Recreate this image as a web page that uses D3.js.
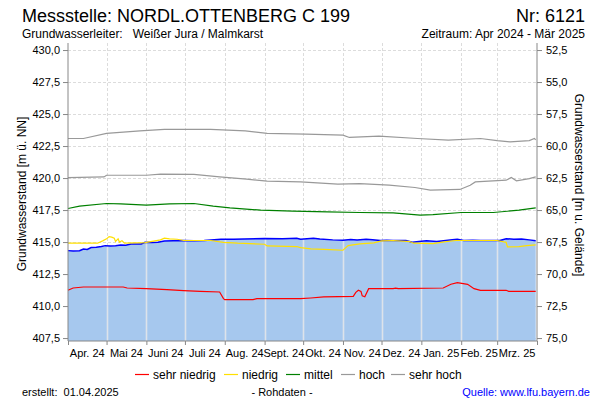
<!DOCTYPE html>
<html><head><meta charset="utf-8">
<script src="https://cdn.jsdelivr.net/npm/d3@7/dist/d3.min.js"></script>
<style>
body{margin:0;background:#fff;}
svg{display:block;font-family:"Liberation Sans",Arial,sans-serif;}
</style></head><body>
<svg id="c" width="600" height="400"></svg>
<script>
// ---- data ----
const monthLabels = ["Apr. 24","Mai 24","Juni 24","Juli 24","Aug. 24","Sept. 24","Okt. 24","Nov. 24","Dez. 24","Jan. 25","Feb. 25","Mrz. 25"];
const leftTicks = [407.5,410,412.5,415,417.5,420,422.5,425,427.5,430];
const rightTicks = [52.5,55,57.5,60,62.5,65,67.5,70,72.5,75];
const groundLevel = 482.5;

const messwert = [
["2024-04-01",414.33],["2024-04-05",414.30],["2024-04-10",414.32],["2024-04-13",414.46],["2024-04-16",414.42],["2024-04-19",414.57],
["2024-04-23",414.60],["2024-04-27",414.65],["2024-04-30",414.72],["2024-05-04",414.70],["2024-05-08",414.72],["2024-05-12",414.77],
["2024-05-16",414.75],["2024-05-20",414.85],["2024-05-28",414.85],["2024-05-31",414.98],["2024-06-05",414.96],["2024-06-10",414.98],
["2024-06-15",415.09],["2024-06-22",415.10],["2024-06-30",415.12],["2024-07-08",415.10],["2024-07-16",415.12],["2024-07-29",415.22],
["2024-08-08",415.22],["2024-08-16",415.24],["2024-09-01",415.27],["2024-09-15",415.26],["2024-09-26",415.30],["2024-09-29",415.22],
["2024-10-04",415.26],["2024-10-09",415.30],["2024-10-14",415.24],["2024-10-24",415.17],["2024-11-01",415.15],["2024-11-07",415.20],
["2024-11-12",415.16],["2024-11-19",415.22],["2024-11-24",415.18],["2024-11-30",415.12],["2024-12-05",415.14],["2024-12-10",415.12],
["2024-12-20",415.12],["2024-12-25",414.98],["2024-12-30",415.04],["2025-01-05",415.10],["2025-01-13",415.04],["2025-01-20",415.12],
["2025-01-25",415.18],["2025-01-29",415.22],["2025-02-03",415.12],["2025-02-10",415.14],["2025-02-16",415.12],["2025-03-03",415.12],
["2025-03-08",415.26],["2025-03-14",415.22],["2025-03-20",415.24],["2025-03-26",415.17],["2025-03-31",415.10]
];
const sehrNiedrig = [
["2024-04-01",411.23],["2024-04-05",411.41],["2024-04-13",411.49],["2024-05-14",411.49],["2024-05-17",411.41],["2024-06-01",411.36],
["2024-06-17",411.29],["2024-06-30",411.21],["2024-07-13",411.15],["2024-07-28",411.10],["2024-07-31",410.58],["2024-08-01",410.50],
["2024-08-23",410.50],["2024-08-26",410.58],["2024-09-29",410.58],["2024-10-07",410.63],["2024-10-17",410.71],["2024-11-09",410.76],
["2024-11-11",411.07],["2024-11-13",411.23],["2024-11-15",411.15],["2024-11-16",410.80],["2024-11-18",410.72],["2024-11-21",411.36],
["2024-12-10",411.36],["2024-12-12",411.40],["2024-12-14",411.36],["2025-01-18",411.41],["2025-01-24",411.70],["2025-01-29",411.83],
["2025-02-06",411.70],["2025-02-11",411.36],["2025-02-16",411.23],["2025-03-08",411.23],["2025-03-10",411.15],["2025-03-31",411.15]
];
const niedrig = [
["2024-04-01",414.91],["2024-04-24",414.91],["2024-04-28",415.09],["2024-05-01",415.25],["2024-05-03",415.43],["2024-05-05",415.38],
["2024-05-07",415.30],["2024-05-08",415.05],["2024-05-10",415.25],["2024-05-11",415.00],["2024-05-13",415.10],["2024-05-15",414.91],
["2024-05-31",414.96],["2024-06-12",415.17],["2024-06-15",415.30],["2024-06-19",415.25],["2024-06-25",415.22],["2024-06-30",415.12],
["2024-07-21",415.12],["2024-07-31",414.98],["2024-08-11",414.91],["2024-09-01",414.83],["2024-09-03",414.70],["2024-09-26",414.65],
["2024-09-29",414.57],["2024-10-07",414.46],["2024-10-22",414.41],["2024-11-01",414.36],["2024-11-05",414.72],["2024-11-14",414.85],
["2024-11-25",414.93],["2024-12-01",415.09],["2024-12-10",415.12],["2024-12-23",415.04],["2024-12-26",414.91],["2025-01-10",414.88],
["2025-01-20",415.04],["2025-01-28",415.12],["2025-03-01",415.12],["2025-03-08",414.98],["2025-03-09",414.62],["2025-03-18",414.64],
["2025-03-24",414.72],["2025-03-31",414.78]
];
const mittel = [
["2024-04-01",417.62],["2024-04-10",417.80],["2024-05-01",418.01],["2024-05-12",417.98],["2024-06-01",417.88],["2024-06-19",417.98],
["2024-07-08",418.01],["2024-07-23",417.80],["2024-08-05",417.67],["2024-08-29",417.49],["2024-09-23",417.41],["2024-10-20",417.36],
["2024-11-14",417.31],["2024-12-10",417.28],["2024-12-31",417.10],["2025-01-10",417.15],["2025-02-01",417.31],["2025-02-26",417.31],
["2025-03-18",417.49],["2025-03-31",417.67]
];
const hoch = [
["2024-04-01",420.04],["2024-04-29",420.09],["2024-05-01",420.22],["2024-06-01",420.22],["2024-06-12",420.30],["2024-07-08",420.28],
["2024-07-28",420.09],["2024-08-18",419.91],["2024-09-03",419.76],["2024-09-29",419.70],["2024-10-28",419.52],["2024-11-14",419.57],
["2024-12-07",419.44],["2024-12-27",419.26],["2025-01-08",419.05],["2025-01-31",419.11],["2025-02-08",419.44],["2025-02-12",419.70],
["2025-03-08",419.83],["2025-03-12",420.04],["2025-03-16",419.78],["2025-03-26",419.96],["2025-03-31",420.09]
];
const sehrHoch = [
["2024-04-01",423.09],["2024-04-13",423.09],["2024-05-01",423.49],["2024-05-27",423.69],["2024-06-15",423.80],["2024-07-21",423.80],
["2024-08-17",423.69],["2024-09-03",423.49],["2024-10-03",423.43],["2024-11-01",423.35],["2024-11-06",423.17],["2024-11-29",423.27],
["2024-12-29",423.09],["2025-01-22",422.96],["2025-02-16",423.09],["2025-03-01",422.93],["2025-03-11",422.83],["2025-03-26",422.93],
["2025-03-30",423.09],["2025-03-31",422.98]
];

// ---- chart ----
const svg = d3.select("#c");
const L = 68, R = 537, T = 43, B = 341;
const parse = d3.utcParse("%Y-%m-%d");
const x = d3.scaleUtc().domain([parse("2024-04-01"), parse("2025-04-01")]).range([L, R]);
const y = d3.scaleLinear().domain([407.27, 430.55]).range([B, T]);
const y2 = d3.scaleLinear().domain([groundLevel - 407.27, groundLevel - 430.55]).range([B, T]);
const fmt = v => d3.format(".1f")(v).replace(".", ",");
const months = d3.utcMonths(parse("2024-04-01"), parse("2025-04-02"));
const prep = arr => arr.map(d => [parse(d[0]), d[1]]);

// dashed grid
const grid = svg.append("g");
grid.selectAll("line.h").data(leftTicks).join("line")
  .attr("x1", L).attr("x2", R).attr("y1", d => Math.round(y(d)) + 0.5).attr("y2", d => Math.round(y(d)) + 0.5)
  .attr("stroke", "#dcdcdc").attr("stroke-dasharray", "3,2");
grid.selectAll("line.v").data(months.slice(1, -1)).join("line")
  .attr("x1", d => Math.round(x(d)) + 0.5).attr("x2", d => Math.round(x(d)) + 0.5).attr("y1", T).attr("y2", B)
  .attr("stroke", "#dcdcdc").attr("stroke-dasharray", "3,2");

// fill
const mw = prep(messwert);
const area = d3.area().x(d => x(d[0])).y0(B).y1(d => y(d[1]));
svg.append("clipPath").attr("id", "ac").append("path").attr("d", area(mw));
svg.append("path").attr("d", area(mw)).attr("fill", "#a6c8ee");
svg.append("g").attr("clip-path", "url(#ac)").selectAll("line").data(months.slice(1, -1)).join("line")
  .attr("x1", d => Math.round(x(d)) + 0.5).attr("x2", d => Math.round(x(d)) + 0.5).attr("y1", T).attr("y2", B)
  .attr("stroke", "#dde3ea").attr("stroke-width", 1.6);

// lines
const line = d3.line().x(d => x(d[0])).y(d => y(d[1]));
const series = [
  {name: "sehr niedrig", data: sehrNiedrig, color: "#ff0000"},
  {name: "niedrig", data: niedrig, color: "#ffe000"},
  {name: "mittel", data: mittel, color: "#008000"},
  {name: "hoch", data: hoch, color: "#999999"},
  {name: "sehr hoch", data: sehrHoch, color: "#999999"}
];
svg.append("path").attr("d", line(mw)).attr("fill", "none").attr("stroke", "#0000ff").attr("stroke-width", 1.5);
series.forEach(s => {
  svg.append("path").attr("d", line(prep(s.data))).attr("fill", "none").attr("stroke", s.color).attr("stroke-width", 1.2);
});

// axes
const axCol = "#888";
const gl = svg.append("g").attr("transform", `translate(${L},0)`)
  .call(d3.axisLeft(y).tickValues(leftTicks).tickFormat(fmt).tickSize(5).tickPadding(3));
const gr = svg.append("g").attr("transform", `translate(${R},0)`)
  .call(d3.axisRight(y2).tickValues(rightTicks).tickFormat(fmt).tickSize(5).tickPadding(4));
const gb = svg.append("g").attr("transform", `translate(0,${B})`)
  .call(d3.axisBottom(x).tickValues(months).tickFormat("").tickSize(4));
[gl, gr, gb].forEach(g => {
  g.select(".domain").attr("stroke", axCol);
  g.selectAll(".tick line").attr("stroke", axCol);
  g.selectAll("text").attr("fill", "#000").style("font-size", "11px").style("font-family", "Liberation Sans, Arial, sans-serif");
});
gl.select(".domain").attr("d", `M0,${T}V${B}`);
gr.select(".domain").attr("d", `M0,${T}V${B}`);
gb.select(".domain").attr("d", `M${L},0H${R}`);

// month labels centered in months
svg.append("g").selectAll("text").data(monthLabels).join("text")
  .attr("x", (d, i) => (x(months[i]) + x(months[i + 1])) / 2).attr("y", 357)
  .attr("text-anchor", "middle").attr("font-size", 11).attr("fill", "#000").text(d => d);

// titles
svg.append("text").attr("x", 22).attr("y", 22).attr("font-size", 18).text("Messstelle: NORDL.OTTENBERG C 199");
svg.append("text").attr("x", 585).attr("y", 22).attr("font-size", 18).attr("text-anchor", "end").text("Nr: 6121");
svg.append("text").attr("x", 22).attr("y", 38).attr("font-size", 12).attr("xml:space", "preserve").text("Grundwasserleiter:   Weißer Jura / Malmkarst");
svg.append("text").attr("x", 585).attr("y", 38).attr("font-size", 12).attr("text-anchor", "end").text("Zeitraum: Apr 2024 - Mär 2025");
svg.append("text").attr("transform", "translate(26,194) rotate(-90)").attr("text-anchor", "middle").attr("font-size", 12).text("Grundwasserstand [m ü. NN]");
svg.append("text").attr("transform", "translate(575,185) rotate(90)").attr("text-anchor", "middle").attr("font-size", 12).text("Grundwasserstand [m u. Gelände]");

// legend
const legX = [135, 224, 286, 341, 391];
const lg = svg.append("g");
series.forEach((s, i) => {
  lg.append("line").attr("x1", legX[i]).attr("x2", legX[i] + 14).attr("y1", 374.5).attr("y2", 374.5).attr("stroke", s.color).attr("stroke-width", 1.2);
  lg.append("text").attr("x", legX[i] + 18).attr("y", 378.5).attr("font-size", 12).text(s.name);
});

// footer
svg.append("text").attr("x", 22).attr("y", 396).attr("font-size", 11).attr("xml:space", "preserve").text("erstellt:  01.04.2025");
svg.append("text").attr("x", 282).attr("y", 396).attr("font-size", 11).attr("text-anchor", "middle").text("- Rohdaten -");
svg.append("text").attr("x", 590).attr("y", 396).attr("font-size", 11).attr("text-anchor", "end").attr("fill", "#0000ff").text("Quelle: www.lfu.bayern.de");
</script></body></html>
